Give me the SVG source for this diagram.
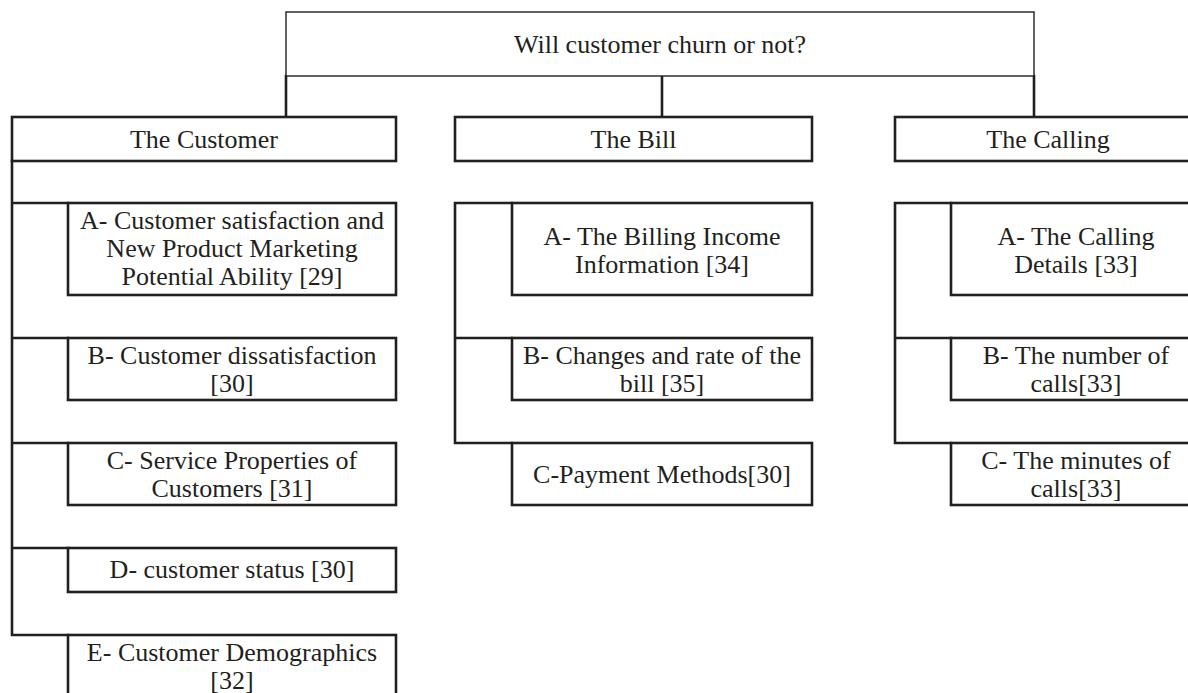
<svg xmlns="http://www.w3.org/2000/svg" width="1188" height="693" viewBox="0 0 1188 693">
<style>
  .box{fill:#ffffff;stroke:#231f20;stroke-width:2.6}
  .thin{fill:#ffffff;stroke:#231f20;stroke-width:1.4}
  .conn{fill:none;stroke:#231f20;stroke-width:2.6;stroke-linecap:square}
  text{font-family:"Liberation Serif","Times New Roman",serif;font-size:26px;fill:#231f20;text-anchor:middle}
</style>
<rect width="1188" height="693" fill="#ffffff"/>
<g id="connectors">
  <path class="conn" d="M286,76 V117 M662,76 V117 M1034,76 V117"/>
  <path class="conn" d="M12,161 V635 M12,203 H68 M12,338 H68 M12,443 H68 M12,548 H68 M12,635 H68"/>
  <path class="conn" d="M455,203 V443 M455,203 H512 M455,338 H512 M455,443 H512"/>
  <path class="conn" d="M895,203 V443 M895,203 H951 M895,338 H951 M895,443 H951"/>
</g>
<g id="root">
  <rect class="thin" x="286" y="12" width="748" height="64"/>
  <text x="660" y="53">Will customer churn or not?</text>
</g>
<g id="customer">
  <rect class="box" x="12" y="117" width="384" height="44"/>
  <text x="204" y="148">The Customer</text>
</g>
<g id="bill">
  <rect class="box" x="455" y="117" width="357" height="44"/>
  <text x="633.5" y="148">The Bill</text>
</g>
<g id="calling">
  <rect class="box" x="895" y="117" width="306" height="44"/>
  <text x="1048" y="148">The Calling</text>
</g>
<g id="customer-a">
  <rect class="box" x="68" y="203" width="328" height="92"/>
  <text x="232" y="229">A- Customer satisfaction and</text>
  <text x="232" y="257">New Product Marketing</text>
  <text x="232" y="285">Potential Ability [29]</text>
</g>
<g id="customer-b">
  <rect class="box" x="68" y="338" width="328" height="62"/>
  <text x="232" y="364">B- Customer dissatisfaction</text>
  <text x="232" y="392">[30]</text>
</g>
<g id="customer-c">
  <rect class="box" x="68" y="443" width="328" height="62"/>
  <text x="232" y="469">C- Service Properties of</text>
  <text x="232" y="497">Customers [31]</text>
</g>
<g id="customer-d">
  <rect class="box" x="68" y="548" width="328" height="44"/>
  <text x="232" y="578">D- customer status [30]</text>
</g>
<g id="customer-e">
  <rect class="box" x="68" y="635" width="328" height="90"/>
  <text x="232" y="661">E- Customer Demographics</text>
  <text x="232" y="689">[32]</text>
</g>
<g id="bill-a">
  <rect class="box" x="512" y="203" width="300" height="92"/>
  <text x="662" y="245">A- The Billing Income</text>
  <text x="662" y="273">Information [34]</text>
</g>
<g id="bill-b">
  <rect class="box" x="512" y="338" width="300" height="62"/>
  <text x="662" y="364">B- Changes and rate of the</text>
  <text x="662" y="392">bill [35]</text>
</g>
<g id="bill-c">
  <rect class="box" x="512" y="443" width="300" height="62"/>
  <text x="662" y="483">C-Payment Methods[30]</text>
</g>
<g id="calling-a">
  <rect class="box" x="951" y="203" width="250" height="92"/>
  <text x="1076" y="245">A- The Calling</text>
  <text x="1076" y="273">Details [33]</text>
</g>
<g id="calling-b">
  <rect class="box" x="951" y="338" width="250" height="62"/>
  <text x="1076" y="364">B- The number of</text>
  <text x="1076" y="392">calls[33]</text>
</g>
<g id="calling-c">
  <rect class="box" x="951" y="443" width="250" height="62"/>
  <text x="1076" y="469">C- The minutes of</text>
  <text x="1076" y="497">calls[33]</text>
</g>
</svg>
